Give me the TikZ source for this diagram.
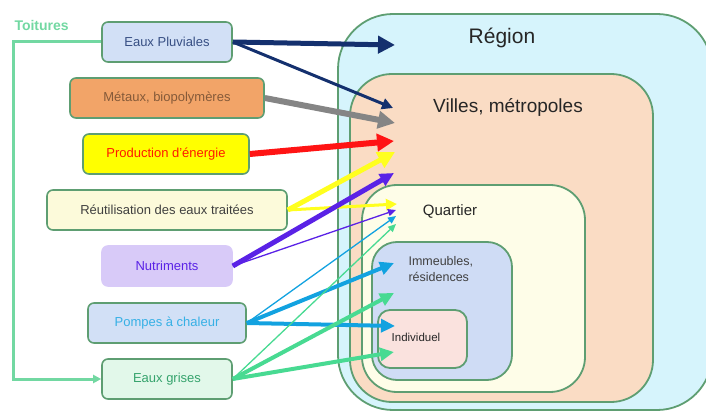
\documentclass[tikz,border=0pt]{standalone}
\usepackage{fontspec}
\setmainfont{Liberation Sans}
\usetikzlibrary{arrows.meta}
\definecolor{bord}{HTML}{5E9E72}
\definecolor{regfill}{HTML}{D6F4FC}
\definecolor{vilfill}{HTML}{FADCC4}
\definecolor{quafill}{HTML}{FEFDE8}
\definecolor{immfill}{HTML}{CFDCF5}
\definecolor{indfill}{HTML}{FAE2DE}
\definecolor{navy}{HTML}{14306E}
\definecolor{grayA}{HTML}{858585}
\definecolor{redA}{HTML}{FF1414}
\definecolor{yelA}{HTML}{FFFF1E}
\definecolor{purA}{HTML}{5A22E6}
\definecolor{bluA}{HTML}{12A2E0}
\definecolor{greA}{HTML}{48DA92}
\definecolor{mint}{HTML}{72D8A2}
\definecolor{epfill}{HTML}{D2E0F6}
\definecolor{metfill}{HTML}{F2A468}
\definecolor{prodfill}{HTML}{FFFF00}
\definecolor{reufill}{HTML}{FCFADA}
\definecolor{nutfill}{HTML}{D8CAF8}
\definecolor{pacfill}{HTML}{D2E0F6}
\definecolor{egfill}{HTML}{E2F8EA}
\tikzset{
  bigbox/.style={draw=bord, line width=1.8pt, inner sep=0pt},
  leftbox/.style={draw=bord, line width=1.6pt, rounded corners=6pt, inner sep=0pt,
    minimum height=40pt, font=\fontsize{13}{15}\selectfont},
  bigtip/.style={-{Triangle[length=17pt,width=17pt]}},
  midtip/.style={-{Triangle[length=14pt,width=13pt]}},
  medtip/.style={-{Triangle[length=11pt,width=11pt]}},
  smalltip/.style={-{Triangle[length=8pt,width=7pt]}},
}
\begin{document}
\begin{tikzpicture}[x=1pt,y=-1pt]
\useasboundingbox (0,0) rectangle (706,411);
\begin{scope}
\clip (0,0) rectangle (706,411);
% nested areas
\node[bigbox, fill=regfill, rounded corners=55pt, minimum width=374pt, minimum height=396pt] (region) at (525,212) {};
\node[bigbox, fill=vilfill, rounded corners=42pt, minimum width=303pt, minimum height=328pt] (villes) at (501.5,238) {};
\node[bigbox, fill=quafill, rounded corners=35pt, minimum width=223pt, minimum height=207pt] (quartier) at (473.5,288.5) {};
\node[bigbox, fill=immfill, rounded corners=25pt, minimum width=140pt, minimum height=138pt] (immeubles) at (442,311) {};
\node[bigbox, fill=indfill, rounded corners=12pt, minimum width=89pt, minimum height=58pt] (individuel) at (422.5,339) {};
\end{scope}
\node[font=\fontsize{21}{24}\selectfont, text=black!85] (tregion) at (502,38) {Région};
\node[font=\fontsize{19}{22}\selectfont, text=black!85] (tvilles) at (508,107) {Villes, métropoles};
\node[font=\fontsize{15}{18}\selectfont, text=black!85] (tquartier) at (450,211) {Quartier};
\node[font=\fontsize{12.5}{16}\selectfont, text=black!75, align=left, anchor=west] (timm) at (405,269) {Immeubles,\\résidences};
\node[font=\fontsize{11.5}{14}\selectfont, text=black!85] (tind) at (416,337) {Individuel};
% left boxes
\node[leftbox, fill=epfill, minimum width=130pt, text=navy!85] (ep) at (167,42) {Eaux Pluviales};
\node[leftbox, fill=metfill, minimum width=194pt, text=black!45!metfill] (met) at (167,98) {Métaux, biopolymères};
\node[leftbox, fill=prodfill, minimum width=166pt, text=red!80!orange] (prod) at (166,154) {Production d’énergie};
\node[leftbox, fill=reufill, minimum width=240pt, text=black!75] (reu) at (167,210) {Réutilisation des eaux traitées};
\node[leftbox, draw=nutfill, fill=nutfill, minimum width=130pt, text=purA] (nut) at (167,266) {Nutriments};
\node[leftbox, fill=pacfill, minimum width=158pt, text=bluA!85] (pac) at (167,323) {Pompes à chaleur};
\node[leftbox, fill=egfill, minimum width=130pt, text=greA!75!black] (eg) at (167,379) {Eaux grises};
\node[font=\bfseries\fontsize{14}{16}\selectfont, text=mint, anchor=west] (toit) at (11,26) {Toitures};
% target points
\coordinate (a1) at (395,45);
\coordinate (a2) at (393,108);
\coordinate (a3) at (395,123);
\coordinate (a4) at (394,141);
\coordinate (a5) at (395,152);
\coordinate (a6) at (397,204);
\coordinate (a7) at (394,173);
\coordinate (a8) at (396,210);
\coordinate (a9) at (396,216);
\coordinate (a10) at (394,263);
\coordinate (a11) at (395,326);
\coordinate (a12) at (396,224);
\coordinate (a13) at (394,293);
\coordinate (a14) at (394,352);
\coordinate (t1) at (13,42);
\coordinate (t2) at (13,379);
% Toitures connector
\draw[mint, line width=3pt, -{Triangle[length=8pt,width=8pt]}] (ep.west) -- (t1) -- (t2) -- (eg.west);
% arrows
\draw[navy, line width=5pt, bigtip] (ep.east) -- (a1);
\draw[navy, line width=3pt, medtip] (ep.east) -- (a2);
\draw[grayA, line width=6pt, bigtip] (met.east) -- (a3);
\draw[redA, line width=6pt, bigtip] (prod.east) -- (a4);
\draw[yelA, line width=5pt, bigtip] (reu.east) -- (a5);
\draw[yelA, line width=3pt, medtip] (reu.east) -- (a6);
\draw[purA, line width=5pt, midtip] (nut.east) -- (a7);
\draw[purA, line width=1.3pt, smalltip] (nut.east) -- (a8);
\draw[bluA, line width=1.3pt, smalltip] (pac.east) -- (a9);
\draw[bluA, line width=4pt, midtip] (pac.east) -- (a10);
\draw[bluA, line width=4pt, midtip] (pac.east) -- (a11);
\draw[greA, line width=1.3pt, smalltip] (eg.east) -- (a12);
\draw[greA, line width=4pt, midtip] (eg.east) -- (a13);
\draw[greA, line width=4pt, midtip] (eg.east) -- (a14);
\end{tikzpicture}
\end{document}
